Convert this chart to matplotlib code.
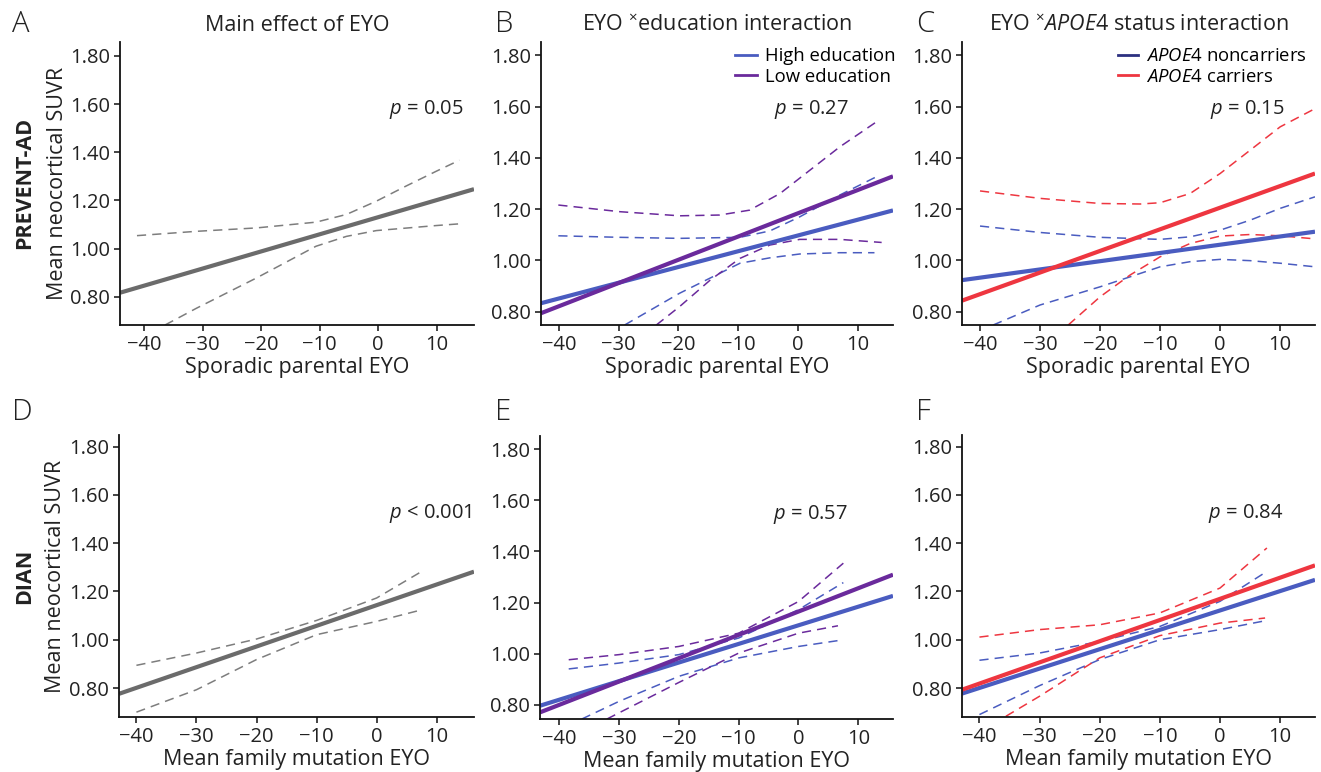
import matplotlib
matplotlib.use("Agg")
import matplotlib.pyplot as plt
from matplotlib.lines import Line2D

plt.rcParams['font.family'] = ['Open Sans', 'DejaVu Sans']
plt.rcParams['mathtext.fontset'] = 'custom'
plt.rcParams['mathtext.rm'] = 'Open Sans'
plt.rcParams['mathtext.it'] = 'Open Sans:italic'
plt.rcParams['mathtext.bf'] = 'Open Sans:bold'

# ---------------- data ----------------
yticks = [0.80, 1.00, 1.20, 1.40, 1.60, 1.80]
xticks = [-40, -30, -20, -10, 0, 10]

# Panel A (PREVENT-AD main effect)
A_fit_x = [-44.1, 16.4]
A_fit_y = [0.817, 1.247]
A_up_x = [-41.2, -31.0, -20.8, -10.6, -5.4, -0.3, 4.8, 10.0, 13.9]
A_up_y = [1.054, 1.072, 1.086, 1.110, 1.142, 1.197, 1.260, 1.322, 1.367]
A_lo_x = [-36.4, -31.0, -20.8, -10.6, -5.4, -0.3, 10.0, 13.9]
A_lo_y = [0.683, 0.753, 0.878, 1.010, 1.051, 1.075, 1.096, 1.103]

# Panel B (PREVENT-AD education)
B_hi_fit_x = [-43.0, 15.9]
B_hi_fit_y = [0.833, 1.195]
B_lo_fit_x = [-43.0, 15.9]
B_lo_fit_y = [0.794, 1.328]
B_hi_up_x = [-40.1, -29.8, -19.8, -9.7, -4.7, 0.3, 7.0, 13.1]
B_hi_up_y = [1.096, 1.090, 1.086, 1.090, 1.115, 1.170, 1.255, 1.326]
B_hi_lo_x = [-29.0, -19.8, -9.7, -4.7, 0.3, 7.0, 12.8]
B_hi_lo_y = [0.748, 0.872, 0.989, 1.010, 1.025, 1.030, 1.030]
B_lo_up_x = [-40.1, -29.8, -19.8, -13.1, -8.1, -3.0, 2.0, 7.0, 13.1]
B_lo_up_y = [1.216, 1.190, 1.174, 1.177, 1.196, 1.261, 1.352, 1.443, 1.540]
B_lo_lo_x = [-23.7, -19.8, -14.7, -9.7, -4.7, 0.3, 7.0, 14.0]
B_lo_lo_y = [0.748, 0.820, 0.923, 1.008, 1.060, 1.082, 1.082, 1.070]

# Panel C (PREVENT-AD APOE4)
C_non_fit_x = [-43.0, 15.8]
C_non_fit_y = [0.923, 1.112]
C_car_fit_x = [-43.0, 15.8]
C_car_fit_y = [0.843, 1.339]
C_car_up_x = [-40, -30, -20, -13.3, -10, -5, 0, 5, 10, 15.8]
C_car_up_y = [1.271, 1.242, 1.222, 1.220, 1.225, 1.261, 1.339, 1.430, 1.521, 1.592]
C_car_lo_x = [-25.3, -20, -15, -10, -5, 0, 5, 10, 15.8]
C_car_lo_y = [0.748, 0.858, 0.943, 1.014, 1.066, 1.095, 1.101, 1.096, 1.084]
C_non_up_x = [-40, -30, -20, -10, -5, 0, 5, 10, 15.8]
C_non_up_y = [1.134, 1.109, 1.090, 1.082, 1.092, 1.118, 1.157, 1.203, 1.248]
C_non_lo_x = [-37.8, -30, -20, -10, -5, 0, 5, 10, 15.8]
C_non_lo_y = [0.748, 0.826, 0.897, 0.975, 0.995, 1.004, 0.999, 0.989, 0.975]

# Panel D (DIAN main effect)
D_fit_x = [-42.9, 16.2]
D_fit_y = [0.776, 1.282]
D_up_x = [-40, -30, -20, -10, 0, 7.5]
D_up_y = [0.894, 0.945, 1.003, 1.080, 1.173, 1.283]
D_lo_x = [-40, -30, -20, -10, 0, 7.5]
D_lo_y = [0.700, 0.793, 0.918, 1.021, 1.076, 1.124]

# Panel E (DIAN education)
E_hi_fit_x = [-43.2, 15.8]
E_hi_fit_y = [0.796, 1.226]
E_lo_fit_x = [-43.2, 15.8]
E_lo_fit_y = [0.770, 1.309]
E_lo_up_x = [-38.4, -30, -20, -10, 0, 7.5]
E_lo_up_y = [0.976, 0.996, 1.028, 1.080, 1.204, 1.354]
E_hi_up_x = [-38.4, -30, -20, -10, 0, 7.5]
E_hi_up_y = [0.940, 0.963, 0.996, 1.061, 1.172, 1.278]
E_hi_lo_x = [-36.2, -30, -20, -10, 0, 7.5]
E_hi_lo_y = [0.744, 0.813, 0.911, 0.983, 1.028, 1.054]
E_lo_lo_x = [-32.0, -30, -20, -10, 0, 6.6]
E_lo_lo_y = [0.744, 0.768, 0.887, 1.002, 1.080, 1.109]

# Panel F (DIAN APOE4)
F_car_fit_x = [-42.9, 15.8]
F_car_fit_y = [0.793, 1.308]
F_non_fit_x = [-42.9, 15.8]
F_non_fit_y = [0.777, 1.248]
F_car_up_x = [-40, -30, -20, -10, 0, 7.8]
F_car_up_y = [1.011, 1.042, 1.062, 1.111, 1.214, 1.380]
F_car_lo_x = [-35.6, -30, -20, -10, 0, 7.5]
F_car_lo_y = [0.683, 0.766, 0.925, 1.017, 1.069, 1.090]
F_non_up_x = [-40, -30, -20, -10, 0, 7.8]
F_non_up_y = [0.915, 0.945, 0.993, 1.055, 1.159, 1.283]
F_non_lo_x = [-40, -30, -20, -10, 0, 7.8]
F_non_lo_y = [0.690, 0.810, 0.918, 1.000, 1.042, 1.080]

p_texts = ["$p$ = 0.05", "$p$ = 0.27", "$p$ = 0.15",
           "$p$ < 0.001", "$p$ = 0.57", "$p$ = 0.84"]
titles = ["Main effect of EYO",
          "EYO $^{\\times}$education interaction",
          "EYO $^{\\times}$$\\mathit{APOE}$4 status interaction"]
letters = ["A", "B", "C", "D", "E", "F"]
row_labels = ["PREVENT-AD", "DIAN"]
xlabels = ["Sporadic parental EYO", "Mean family mutation EYO"]
ylabel = "Mean neocortical SUVR"
edu_labels = ["High education", "Low education"]
apoe_labels = ["$\\mathit{APOE}$4 noncarriers", "$\\mathit{APOE}$4 carriers"]

# ---------------- style ----------------
GRAY = "#6b6b6b"
GRAYD = "#7d7d7d"
BLUE = "#4a5cc0"
PURPLE = "#6a2a9c"
RED = "#ee3640"
NAVY = "#2c3080"
LW = 3.0
DLW = 1.1
DASH = (6, 4)
TXT = "#222222"

W, H = 1321, 772
fig = plt.figure(figsize=(W / 100, H / 100), dpi=100)

def px_axes(l, t, r, b):
    return fig.add_axes([l / W, 1 - b / H, (r - l) / W, (b - t) / H])

axA = px_axes(120, 42, 474, 325)
axB = px_axes(541, 42, 893, 325)
axC = px_axes(962, 42, 1315, 325)
axD = px_axes(119, 435, 474, 717)
axE = px_axes(540, 436, 893, 719)
axF = px_axes(962, 435, 1315, 717)
axes = [axA, axB, axC, axD, axE, axF]

lims = {
    axA: ((-44.1, 16.4), (0.683, 1.858)),
    axB: ((-43.0, 15.9), (0.748, 1.852)),
    axC: ((-43.0, 15.8), (0.748, 1.852)),
    axD: ((-42.9, 16.2), (0.680, 1.848)),
    axE: ((-43.2, 15.8), (0.744, 1.852)),
    axF: ((-42.9, 15.8), (0.680, 1.848)),
}

FS_TICK = 14.5
FS_LAB = 15.5
for ax in axes:
    ax.set_xlim(*lims[ax][0])
    ax.set_ylim(*lims[ax][1])
    ax.set_xticks(xticks)
    ax.set_xticklabels([f"{v}".replace("-", "\u2212") for v in xticks])
    ax.set_yticks(yticks)
    ax.set_yticklabels([f"{v:.2f}" for v in yticks])
    for s in ["top", "right"]:
        ax.spines[s].set_visible(False)
    for s in ["left", "bottom"]:
        ax.spines[s].set_linewidth(1.3)
        ax.spines[s].set_color("#111111")
    ax.tick_params(direction="out", length=4, width=1.1, labelsize=FS_TICK,
                   colors="#111111", labelcolor=TXT, pad=3)
    ax.patch.set_alpha(0)

def dashed(ax, x, y, c):
    ax.plot(x, y, color=c, lw=DLW, dashes=DASH, clip_on=True)

def solid(ax, x, y, c):
    ax.plot(x, y, color=c, lw=LW, solid_capstyle="butt", clip_on=True)

# A
dashed(axA, A_up_x, A_up_y, GRAYD)
dashed(axA, A_lo_x, A_lo_y, GRAYD)
solid(axA, A_fit_x, A_fit_y, GRAY)
# B
dashed(axB, B_hi_up_x, B_hi_up_y, BLUE)
dashed(axB, B_hi_lo_x, B_hi_lo_y, BLUE)
dashed(axB, B_lo_up_x, B_lo_up_y, PURPLE)
dashed(axB, B_lo_lo_x, B_lo_lo_y, PURPLE)
solid(axB, B_hi_fit_x, B_hi_fit_y, BLUE)
solid(axB, B_lo_fit_x, B_lo_fit_y, PURPLE)
# C
dashed(axC, C_non_up_x, C_non_up_y, BLUE)
dashed(axC, C_non_lo_x, C_non_lo_y, BLUE)
dashed(axC, C_car_up_x, C_car_up_y, RED)
dashed(axC, C_car_lo_x, C_car_lo_y, RED)
solid(axC, C_non_fit_x, C_non_fit_y, BLUE)
solid(axC, C_car_fit_x, C_car_fit_y, RED)
# D
dashed(axD, D_up_x, D_up_y, GRAYD)
dashed(axD, D_lo_x, D_lo_y, GRAYD)
solid(axD, D_fit_x, D_fit_y, GRAY)
# E
dashed(axE, E_hi_up_x, E_hi_up_y, BLUE)
dashed(axE, E_hi_lo_x, E_hi_lo_y, BLUE)
dashed(axE, E_lo_up_x, E_lo_up_y, PURPLE)
dashed(axE, E_lo_lo_x, E_lo_lo_y, PURPLE)
solid(axE, E_hi_fit_x, E_hi_fit_y, BLUE)
solid(axE, E_lo_fit_x, E_lo_fit_y, PURPLE)
# F
dashed(axF, F_non_up_x, F_non_up_y, BLUE)
dashed(axF, F_non_lo_x, F_non_lo_y, BLUE)
dashed(axF, F_car_up_x, F_car_up_y, RED)
dashed(axF, F_car_lo_x, F_car_lo_y, RED)
solid(axF, F_non_fit_x, F_non_fit_y, BLUE)
solid(axF, F_car_fit_x, F_car_fit_y, RED)

# p-values (axes-fraction positions, centered)
p_pos = [(0.864, 0.762), (0.767, 0.762), (0.807, 0.762),
         (0.876, 0.723), (0.767, 0.723), (0.805, 0.723)]
for ax, t, (px, py) in zip(axes, p_texts, p_pos):
    ax.text(px, py, t, transform=ax.transAxes, ha="center", va="center",
            fontsize=FS_TICK, color=TXT)

# titles
for ax, t in zip(axes[:3], titles):
    ax.set_title(t, fontsize=FS_LAB, pad=8, color=TXT)

# x labels
for i, ax in enumerate(axes):
    ax.set_xlabel(xlabels[i // 3], fontsize=FS_LAB, labelpad=2, color=TXT)
axA.set_ylabel(ylabel, fontsize=FS_LAB, labelpad=2, color=TXT)
axD.set_ylabel(ylabel, fontsize=FS_LAB, labelpad=2, color=TXT)

# row labels
fig.text(25 / W, 1 - 183 / H, row_labels[0], rotation=90, ha="center", va="center",
         fontsize=FS_LAB, fontweight="bold", color=TXT)
fig.text(25 / W, 1 - 576 / H, row_labels[1], rotation=90, ha="center", va="center",
         fontsize=FS_LAB, fontweight="bold", color=TXT)

# panel letters
let_pos = [(12, 32), (495, 32), (916, 32), (12, 420), (495, 420), (916, 420)]
for L, (lx, ly) in zip(letters, let_pos):
    fig.text(lx / W, 1 - ly / H, L, ha="left", va="baseline", fontsize=21,
             color=TXT, fontweight="light")

# legends
LEG_LW = 2.0
LEG_FS = 13.3
hB = [Line2D([], [], color=BLUE, lw=LEG_LW), Line2D([], [], color=PURPLE, lw=LEG_LW)]
axB.legend(hB, edu_labels, loc="upper left", bbox_to_anchor=(0.551, 0.982),
           frameon=False, fontsize=LEG_FS, handlelength=1.2, handletextpad=0.44,
           labelspacing=0.15, borderpad=0, borderaxespad=0)
hC = [Line2D([], [], color=NAVY, lw=LEG_LW), Line2D([], [], color=RED, lw=LEG_LW)]
axC.legend(hC, apoe_labels, loc="upper left", bbox_to_anchor=(0.442, 0.982),
           frameon=False, fontsize=LEG_FS, handlelength=1.1, handletextpad=0.42,
           labelspacing=0.15, borderpad=0, borderaxespad=0)

fig.savefig("out.png", dpi=100)
